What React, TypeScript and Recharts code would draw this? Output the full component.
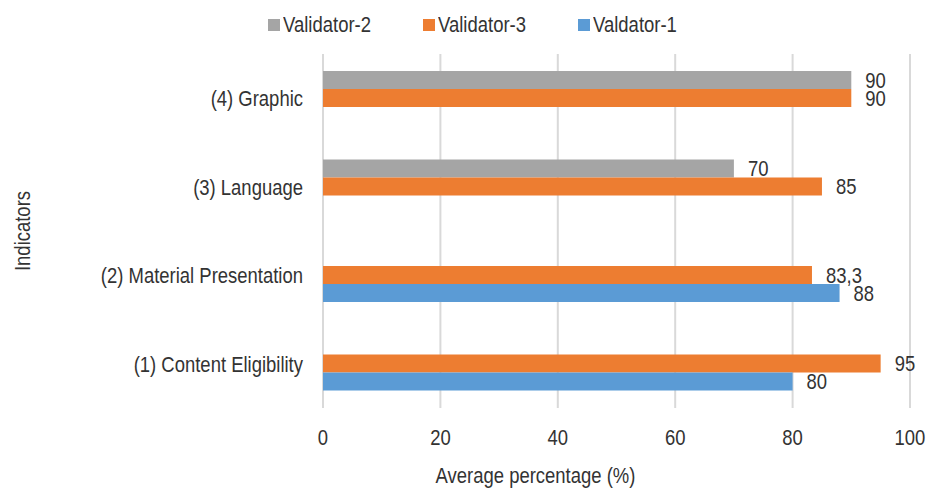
import {
  BarChart,
  Bar,
  XAxis,
  YAxis,
  CartesianGrid,
  Legend,
  LabelList,
  Label,
} from 'recharts';

const indicators = [
  '(4) Graphic',
  '(3) Language',
  '(2) Material Presentation',
  '(1) Content Eligibility',
];
const validator2 = [90, 70, null, null];
const validator3 = [90, 85, 83.3, 95];
const validator1 = [null, null, 88, 80];
const xTicks = [0, 20, 40, 60, 80, 100];

const data = indicators.map((name, i) => ({
  name,
  v2: validator2[i],
  v3: validator3[i],
  v1: validator1[i],
}));

// Arial Narrow is not installed, so squeeze Liberation Sans horizontally
const FONT = "'Liberation Sans', Arial, sans-serif";
const NARROW = 0.84;
const FS = 22;
const TEXT = '#333333';

const legendItems = [
  { label: 'Validator-2', color: '#A5A5A5' },
  { label: 'Validator-3', color: '#ED7D31' },
  { label: 'Valdator-1', color: '#5B9BD5' },
];

function NarrowText({ x, y, anchor = 'start', dy, children }: any) {
  return (
    <text
      x={x}
      y={y}
      dy={dy}
      textAnchor={anchor}
      transform={`matrix(${NARROW} 0 0 1 ${x * (1 - NARROW)} 0)`}
      fontSize={FS}
      fill={TEXT}
      fontFamily={FONT}
    >
      {children}
    </text>
  );
}

function LegendContent() {
  return (
    <div
      style={{
        display: 'flex',
        paddingLeft: 268,
        paddingTop: 6,
        height: 38,
        alignItems: 'center',
        fontFamily: FONT,
        fontSize: FS,
        color: TEXT,
      }}
    >
      {legendItems.map((it) => (
        <div
          key={it.label}
          style={{ display: 'flex', alignItems: 'center', width: 155 }}
        >
          <span
            style={{
              width: 12,
              height: 12,
              background: it.color,
              marginRight: 3,
              display: 'inline-block',
            }}
          />
          <span
            style={{
              display: 'inline-block',
              transform: `scaleX(${NARROW})`,
              transformOrigin: 'left center',
              whiteSpace: 'nowrap',
            }}
          >
            {it.label}
          </span>
        </div>
      ))}
    </div>
  );
}

function XTick({ x, y, payload }: any) {
  return (
    <NarrowText x={x} y={y} anchor="middle" dy="0.71em">
      {payload.value}
    </NarrowText>
  );
}

function YTick({ x, y, payload }: any) {
  return (
    <NarrowText x={x} y={y} anchor="end" dy="0.355em">
      {payload.value}
    </NarrowText>
  );
}

function ValueLabel(props: any) {
  const { value } = props;
  if (value == null) return null;
  const vb = props.viewBox || props;
  const x = vb.x + vb.width + 14;
  const y = vb.y + vb.height / 2;
  return (
    <NarrowText x={x} y={y} dy="0.355em">
      {String(value).replace('.', ',')}
    </NarrowText>
  );
}

export default function App() {
  return (
    <div style={{ position: 'absolute', left: 0, top: 0, background: '#fff' }}>
      <BarChart
        width={928}
        height={488}
        data={data}
        layout="vertical"
        margin={{ top: 10, right: 18, bottom: 0, left: 0 }}
        barGap={0}
        barSize={18}
      >
        <Legend
          verticalAlign="top"
          content={<LegendContent />}
          wrapperStyle={{ top: 0, left: 0, width: 928 }}
        />
        <CartesianGrid horizontal={false} stroke="#D9D9D9" strokeWidth={2} />
        <XAxis
          type="number"
          domain={[0, 100]}
          ticks={xTicks}
          axisLine={false}
          tickLine={false}
          tickSize={0}
          tickMargin={21}
          tick={<XTick />}
          height={80}
        >
          <Label
            content={({ viewBox }: any) => (
              <NarrowText
                x={viewBox.x + viewBox.width / 2 - 81}
                y={viewBox.y + 75}
                anchor="middle"
              >
                Average percentage (%)
              </NarrowText>
            )}
          />
        </XAxis>
        <YAxis
          type="category"
          dataKey="name"
          width={323}
          axisLine={false}
          tickLine={false}
          tickSize={0}
          tickMargin={20}
          tick={<YTick />}
        >
          <Label
            content={({ viewBox }: any) => {
              const cy = viewBox.y + viewBox.height / 2;
              return (
                <text
                  x={0}
                  y={0}
                  textAnchor="middle"
                  dy="0.355em"
                  transform={`translate(22 ${cy}) rotate(-90) scale(${NARROW} 1)`}
                  fontSize={FS}
                  fill={TEXT}
                  fontFamily={FONT}
                >
                  Indicators
                </text>
              );
            }}
          />
        </YAxis>
        <Bar dataKey="v2" fill="#A5A5A5" isAnimationActive={false}>
          <LabelList dataKey="v2" content={<ValueLabel />} />
        </Bar>
        <Bar dataKey="v3" fill="#ED7D31" isAnimationActive={false}>
          <LabelList dataKey="v3" content={<ValueLabel />} />
        </Bar>
        <Bar dataKey="v1" fill="#5B9BD5" isAnimationActive={false}>
          <LabelList dataKey="v1" content={<ValueLabel />} />
        </Bar>
      </BarChart>
    </div>
  );
}
